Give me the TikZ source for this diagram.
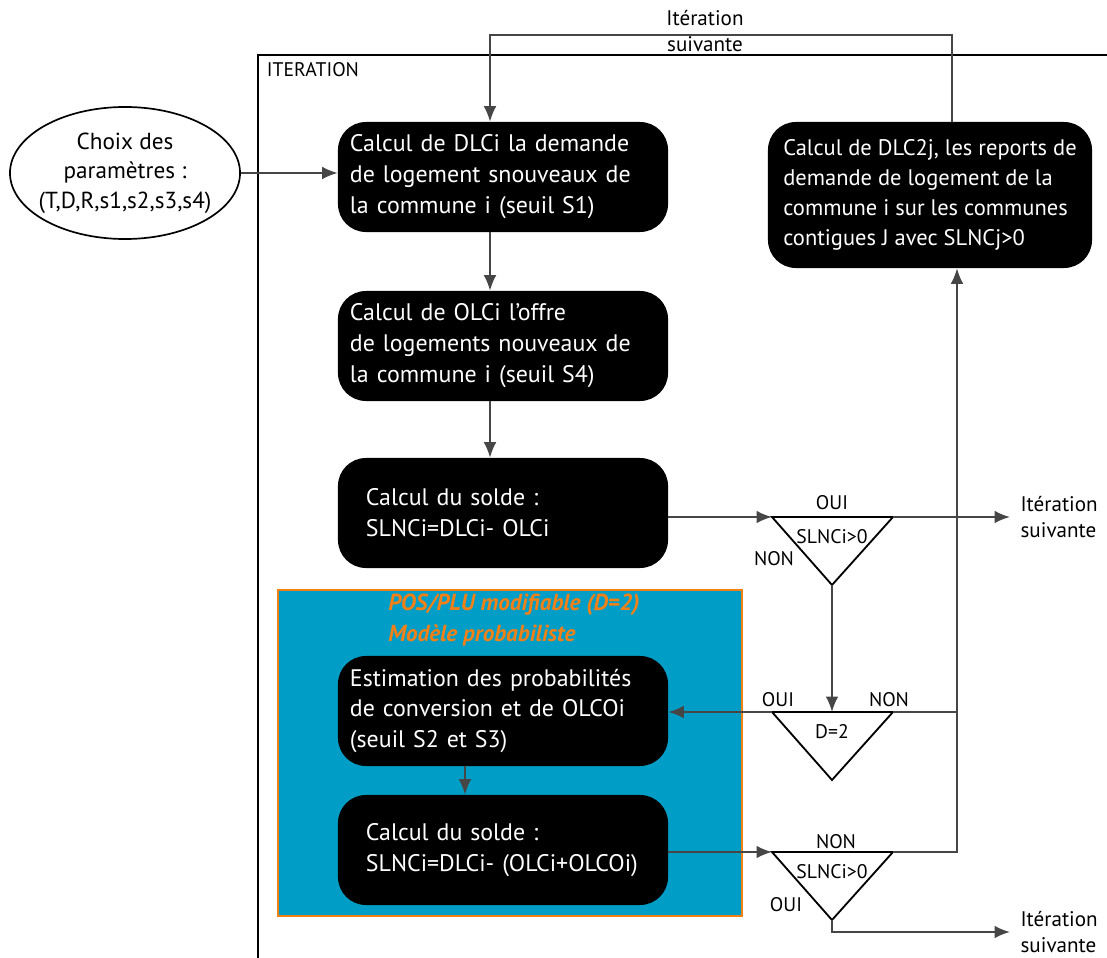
\documentclass[tikz,border=0pt]{standalone}
\usepackage{fontspec}
\setmainfont{PT Sans}
\usepackage{tikz}
\usetikzlibrary{positioning,shapes,arrows.meta}

\definecolor{bleupos}{RGB}{0,158,198}
\definecolor{orangepos}{RGB}{240,128,24}
\definecolor{gris}{RGB}{70,70,70}

\begin{document}
\begin{tikzpicture}[x=0.025cm,y=-0.025cm,
    bloc/.style={rectangle,rounded corners=0.7cm,fill=black,text=white,align=left,
        text width=7.65cm,inner xsep=0.3cm,minimum height=2.75cm,font=\fontsize{17}{22}\selectfont},
    blocsolde/.style={bloc,text width=6.85cm,inner xsep=0.7cm},
    fleche/.style={draw=gris,line width=1.3pt,-{Latex[length=11pt,width=9pt]}},
    lien/.style={draw=gris,line width=1.3pt},
    tri/.style={draw=black,line width=1.3pt},
    petit/.style={font=\fontsize{14}{16}\selectfont},
    suite/.style={font=\fontsize{15}{18}\selectfont}]

\useasboundingbox (0,0) rectangle (1107,958);

% cadre iteration
\draw[line width=1.4pt] (258,958) -- (258,55) -- (1107,55);
\node[petit,anchor=north west] (iteration) at (262,58) {ITERATION};

% cadre modele probabiliste
\node[rectangle,draw=orangepos,fill=bleupos,line width=1.5pt,minimum width=11.6cm,
    minimum height=8.15cm,anchor=north west] (pos) at (277,589) {};
\node[anchor=north west,text=orangepos,align=left,inner sep=0pt,
    font=\fontsize{16.5}{22}\selectfont\bfseries\itshape] (postxt) at (388,594)
    {POS/PLU modifiable (D=2)\\Modèle probabiliste};

\node[ellipse,draw,line width=1.2pt,minimum width=5.75cm,minimum height=3.3cm,align=center,
    inner xsep=-14pt,inner ysep=2pt,font=\fontsize{16.5}{21}\selectfont] (choix) at (125,173)
    {Choix des\\paramètres :\\(T,D,R,s1,s2,s3,s4)};

\node[bloc] (dlc) at (503,177) {Calcul de DLCi la demande\\de logement snouveaux de\\ la commune i (seuil S1)};
\node[bloc] (olc) at (503,346) {Calcul de OLCi l'offre\\de logements nouveaux de\\la commune i (seuil S4)};
\node[blocsolde] (solde) at (503,513) {Calcul du solde :\\SLNCi=DLCi- OLCi};
\node[bloc] (estim) at (503,711) {Estimation des probabilités\\de conversion et de OLCOi\\(seuil S2 et S3)};
\node[blocsolde] (solde2) at (503,850) {Calcul du solde :\\SLNCi=DLCi- (OLCi+OLCOi)};
\node[bloc,text width=,inner xsep=4pt,minimum width=8.1cm,minimum height=3.65cm,
    font=\fontsize{16}{21.5}\selectfont] (reports) at (930,195)
    {Calcul de DLC2j, les reports de\\demande de logement  de la\\commune i sur les  communes\\contigues J avec SLNCj>0};

% tests
\foreach \nom/\y/\test in {testa/517/SLNCi>0, testb/712/D=2, testc/852/SLNCi>0} {
    \coordinate (\nom-g) at (772,\y);
    \coordinate (\nom-d) at (893,\y);
    \coordinate (\nom-b) at (832,\y+68);
    \draw[tri] (\nom-g) -- (\nom-d) -- (\nom-b) -- cycle;
    \node[petit] (\nom-txt) at (832,\y+20) {\test};
}
\node[petit] (ouia) at (832,503) {OUI};
\node[petit] (nona) at (774,559) {NON};
\node[petit] (ouib) at (778,700) {OUI};
\node[petit] (nonb) at (889,700) {NON};
\node[petit] (nonc) at (836,842) {NON};
\node[petit] (ouic) at (786,905) {OUI};

\draw[fleche] (choix.east) -- (choix.east -| dlc.west);
\draw[fleche] (dlc.south -| 490,0) -- (olc.north -| 490,0);
\draw[fleche] (olc.south -| 490,0) -- (solde.north -| 490,0);
\draw[fleche] (estim.south -| 465,0) -- (solde2.north -| 465,0);

\draw[fleche] (solde.east |- testa-g) -- (testa-g);
\coordinate (suiva) at (1010,517);
\draw[fleche] (testa-d) -- (suiva);
\node[suite,anchor=west,align=left,xshift=4pt] (suivatxt) at (suiva) {Itération\\suivante};
\draw[fleche] (testa-b) -- (testa-b |- testb-g);

\draw[fleche] (testb-g) -- (estim.east |- testb-g);
\coordinate (retour) at (957,852);
\draw[lien] (testb-d) -- (testb-d -| retour);

\draw[fleche] (solde2.east |- testc-g) -- (testc-g);
\draw[fleche] (testc-d) -- (retour) -- (reports.south -| retour);
\coordinate (suivc) at (1010,932);
\draw[fleche] (testc-b) |- (suivc);
\node[suite,anchor=west,align=left,xshift=4pt] (suivctxt) at (suivc) {Itération\\suivante};

% boucle
\coordinate (haut) at (952,35);
\draw[fleche] (reports.north -| haut) -- (haut) -- (haut -| 490,0) -- (dlc.north -| 490,0);
\node[suite,align=center] (suivb) at (705,31) {Itération\\[1pt]suivante};
\end{tikzpicture}
\end{document}
